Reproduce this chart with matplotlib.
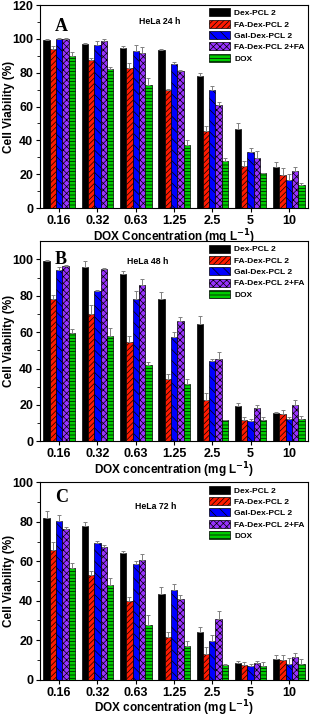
import numpy as np
import matplotlib
matplotlib.use("Agg")
import matplotlib.pyplot as plt

plt.rcParams['font.family'] = ['Liberation Sans', 'DejaVu Sans']
plt.rcParams['font.weight'] = 'bold'
plt.rcParams['hatch.linewidth'] = 0.5

concs = ["0.16", "0.32", "0.63", "1.25", "2.5", "5", "10"]
series = ["Dex-PCL 2", "FA-Dex-PCL 2", "Gal-Dex-PCL 2", "FA-Dex-PCL 2+FA", "DOX"]

# cell viability (%), one row per series, columns = concentrations
a_vals = [[99.5, 97, 94.5, 93.5, 78, 47, 24.5],
          [94, 87.5, 83, 69.5, 45.5, 25, 19.5],
          [100, 96.5, 93, 85, 70, 33, 16.5],
          [100, 99, 91.5, 81, 61, 29.5, 22],
          [90, 82, 73, 37, 28, 20.5, 13.5]]
a_errs = [[0.5, 0.5, 1, 0.5, 2, 3.5, 2.5],
          [1.5, 1, 3, 1, 3, 3, 4],
          [0.3, 2, 3.5, 1.5, 2, 2.5, 3.5],
          [0.5, 1, 3.5, 0.7, 1.5, 4, 2.5],
          [2.5, 1.5, 4, 3.5, 1.5, 0.5, 1.5]]

b_vals = [[99, 96, 92, 78.5, 64.5, 19.5, 15.5],
          [78, 70, 54.5, 34, 23, 12, 15],
          [94, 82.5, 78, 57.5, 44, 11, 12.5],
          [96.5, 94.5, 86, 66, 45, 18.5, 20],
          [59.5, 58, 42, 31.5, 11.5, 12, 12.5]]
b_errs = [[0.5, 3, 1.5, 3.5, 4.5, 1.5, 0.5],
          [2.5, 5, 3.5, 3, 3.5, 1.5, 2.5],
          [2, 0.5, 4.5, 2.5, 1, 1.5, 1],
          [0.5, 1, 3.5, 2.5, 4, 1.5, 3],
          [2.5, 4.5, 1.5, 2.5, 0.5, 1.5, 1.5]]

c_vals = [[82, 78, 64, 43.5, 24, 8.5, 10.5],
          [65.5, 53, 40, 21.5, 13, 7.5, 10],
          [80.5, 69.5, 58.5, 45.5, 19.5, 7, 8],
          [76.5, 67.5, 60.5, 41, 31, 8.5, 11.5],
          [56.5, 48, 27.5, 17, 7.5, 7, 8]]
c_errs = [[3.5, 2, 1, 3.5, 2.5, 1, 2],
          [4.5, 2, 2, 2.5, 3.5, 1.5, 2.5],
          [3, 1, 1.5, 3, 3, 1, 3],
          [1, 1, 3, 2, 4, 0.8, 2],
          [2.5, 3.5, 5.5, 2.5, 0.3, 2, 2.5]]

colors = ["#000000", "#ff1a00", "#0000ff", "#9933ff", "#00cc00"]
hatches = [None, "//////", "\\\\\\", "xxxxx", "-----"]

fig = plt.figure(figsize=(3.13, 7.2), dpi=100)

# letter, title, values, errors, y top, x label, axes rect, letter y, title x, title y
panels = [
    ("A", "HeLa 24 h", a_vals, a_errs, 120, "DOX Concentration (mg L$^{\\mathbf{-1}}$)",
     [0.128, 0.711, 0.856, 0.282], 0.935, 0.37, 0.92),
    ("B", "HeLa 48 h", b_vals, b_errs, 110, "DOX concentration (mg L$^{\\mathbf{-1}}$)",
     [0.128, 0.387, 0.856, 0.278], 0.95, 0.325, 0.90),
    ("C", "HeLa 72 h", c_vals, c_errs, 100, "DOX concentration (mg L$^{\\mathbf{-1}}$)",
     [0.128, 0.056, 0.856, 0.274], 0.965, 0.355, 0.88),
]

x = np.arange(len(concs))
w = 0.165
for letter, title, vals, errs, ytop, xlab, rect, ly, tx, ty in panels:
    ax = fig.add_axes(rect)
    for i in range(len(series)):
        off = (i - 2) * w
        err = np.array(errs[i])
        ax.bar(x + off, vals[i], w, color=colors[i], edgecolor="black", linewidth=0.5,
               hatch=hatches[i], label=series[i],
               yerr=[np.zeros_like(err), err], ecolor="gray",
               error_kw=dict(elinewidth=0.7, capsize=1.5, capthick=0.7))
    ax.set_xlim(-0.5, 6.5)
    ax.set_ylim(0, ytop)
    ax.set_xticks(x)
    ax.set_xticklabels(concs, fontsize=9, fontweight="bold")
    ax.set_yticks(np.arange(0, ytop + 1, 20))
    ax.set_yticks(np.arange(10, ytop, 20), minor=True)
    ax.tick_params(axis="y", labelsize=9, direction="out", length=3, pad=2)
    ax.tick_params(axis="y", which="minor", length=2)
    ax.tick_params(axis="x", direction="out", length=3, pad=2)
    for t in ax.get_yticklabels():
        t.set_fontweight("bold")
    ax.set_ylabel("Cell Viability (%)", fontsize=8.5, fontweight="bold")
    ax.yaxis.set_label_coords(-0.092, 0.5)
    ax.set_xlabel(xlab, fontsize=8.5, fontweight="bold")
    ax.xaxis.set_label_coords(0.5, -0.097)
    ax.text(0.056, ly, letter, transform=ax.transAxes, fontsize=13, fontweight="bold",
            family="Liberation Serif", va="top")
    ax.text(tx, ty, title, transform=ax.transAxes, fontsize=6.3, fontweight="bold", va="center")
    leg = ax.legend(loc="upper right", frameon=False, fontsize=6, handlelength=2.5,
                    handleheight=1.1, labelspacing=0.3, borderaxespad=0.0, borderpad=0.4,
                    handletextpad=0.5)
    for t in leg.get_texts():
        t.set_fontweight("bold")

fig.savefig("out.png", dpi=100)
